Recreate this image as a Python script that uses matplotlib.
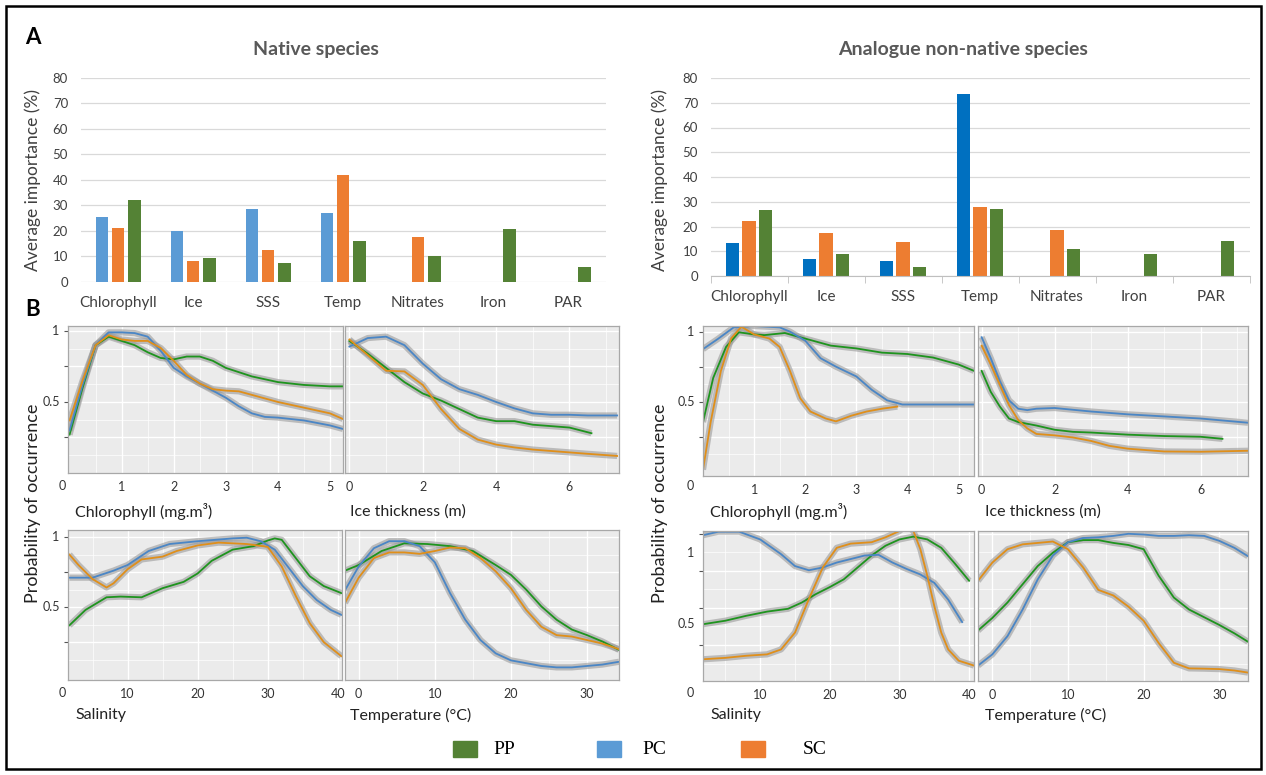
import numpy as np
import matplotlib.pyplot as plt
from matplotlib.patches import Rectangle

plt.rcParams['font.family'] = ['Lato', 'DejaVu Sans']

# ---- A: average importance (%) ----
variables = ['Chlorophyll', 'Ice', 'SSS', 'Temp', 'Nitrates', 'Iron', 'PAR']
native_pc = [25.5, 19.9, 28.5, 26.8, 0, 0, 0]
native_sc = [20.9, 8.1, 12.3, 41.7, 17.5, 0, 0]
native_pp = [31.9, 9.4, 7.2, 15.8, 10.0, 20.8, 5.9]
analog_pc = [13.3, 7.0, 6.1, 73.6, 0, 0, 0]
analog_sc = [22.4, 17.4, 13.8, 27.9, 18.6, 0, 0]
analog_pp = [26.8, 8.7, 3.7, 27.0, 10.8, 8.8, 14.0]

# ---- B: response curves (native) ----
nat_chl_x = [0, 0.25, 0.5, 0.75, 1.0, 1.25, 1.5, 1.75, 2.0, 2.25, 2.5, 2.75, 3.0, 3.25, 3.5, 3.75, 4.0, 4.5, 5.0, 5.25]
nat_chl_pp = [0.27, 0.6, 0.9, 0.96, 0.93, 0.9, 0.85, 0.81, 0.8, 0.82, 0.82, 0.79, 0.74, 0.71, 0.68, 0.66, 0.64, 0.62, 0.61, 0.61]
nat_chl_pc = [0.30, 0.62, 0.9, 0.99, 0.99, 0.985, 0.96, 0.86, 0.74, 0.68, 0.63, 0.58, 0.53, 0.47, 0.42, 0.395, 0.39, 0.37, 0.335, 0.31]
nat_chl_sc = [0.37, 0.65, 0.9, 0.97, 0.94, 0.93, 0.93, 0.88, 0.79, 0.69, 0.63, 0.59, 0.58, 0.575, 0.55, 0.525, 0.50, 0.46, 0.42, 0.38]

nat_ice_x = [0, 0.5, 1.0, 1.5, 2.0, 2.5, 3.0, 3.5, 4.0, 4.5, 5.0, 5.5, 6.0, 6.5, 7.3]
nat_ice_pc = [0.89, 0.95, 0.96, 0.9, 0.77, 0.66, 0.59, 0.55, 0.5, 0.455, 0.42, 0.41, 0.41, 0.405, 0.405]
nat_ice_sc = [0.94, 0.83, 0.72, 0.715, 0.62, 0.45, 0.31, 0.235, 0.2, 0.18, 0.165, 0.155, 0.145, 0.135, 0.12]
nat_ice_pp_x = [0, 0.5, 1.0, 1.5, 2.0, 2.5, 3.0, 3.5, 4.0, 4.5, 5.0, 5.5, 6.0, 6.6]
nat_ice_pp = [0.93, 0.84, 0.74, 0.64, 0.56, 0.51, 0.45, 0.39, 0.365, 0.365, 0.34, 0.33, 0.32, 0.28]

nat_sal_pc_x = [1.7, 5, 8, 10, 13, 16, 20, 25, 27, 29, 31, 33, 35, 37, 39, 40.5]
nat_sal_pc = [0.71, 0.71, 0.76, 0.8, 0.9, 0.95, 0.97, 0.99, 0.995, 0.97, 0.91, 0.78, 0.65, 0.55, 0.48, 0.445]
nat_sal_sc_x = [1.7, 3, 5, 7, 8, 10, 12, 15, 17, 20, 23, 27, 30, 32, 34, 36, 38, 40.5]
nat_sal_sc = [0.875, 0.8, 0.7, 0.64, 0.67, 0.77, 0.84, 0.86, 0.9, 0.94, 0.96, 0.95, 0.93, 0.79, 0.58, 0.385, 0.25, 0.15]
nat_sal_pp_x = [1.7, 4, 7, 9, 12, 15, 18, 20, 22, 25, 28, 30, 31, 32, 34, 36, 38, 40.5]
nat_sal_pp = [0.37, 0.48, 0.57, 0.575, 0.57, 0.635, 0.68, 0.74, 0.83, 0.91, 0.935, 0.975, 0.99, 0.98, 0.85, 0.72, 0.65, 0.6]

nat_tmp_x = [-1.8, 0, 2, 4, 6, 8, 10, 12, 14, 16, 18, 20, 22, 24, 26, 28, 30, 32, 34.2]
nat_tmp_pc = [0.62, 0.79, 0.92, 0.97, 0.97, 0.935, 0.82, 0.6, 0.41, 0.265, 0.17, 0.12, 0.1, 0.08, 0.07, 0.07, 0.08, 0.09, 0.11]
nat_tmp_sc = [0.53, 0.71, 0.85, 0.89, 0.89, 0.88, 0.9, 0.925, 0.92, 0.85, 0.755, 0.635, 0.48, 0.36, 0.3, 0.29, 0.265, 0.24, 0.2]
nat_tmp_pp_x = [-1.8, 0, 3, 6, 9, 12, 15, 18, 20, 22, 24, 26, 28, 30, 32, 34.2]
nat_tmp_pp = [0.76, 0.8, 0.9, 0.955, 0.95, 0.935, 0.9, 0.8, 0.73, 0.625, 0.505, 0.41, 0.34, 0.3, 0.255, 0.195]

# ---- B: response curves (analogue non-native) ----
ana_chl_pc_x = [0, 0.3, 0.6, 1.0, 1.5, 1.7, 2.0, 2.3, 2.6, 3.0, 3.3, 3.6, 3.9, 4.5, 5.0, 5.3]
ana_chl_pc = [0.875, 0.95, 1.03, 1.04, 1.03, 1.0, 0.935, 0.81, 0.75, 0.68, 0.585, 0.51, 0.48, 0.48, 0.48, 0.48]
ana_chl_pp_x = [0, 0.2, 0.45, 0.7, 1.0, 1.2, 1.6, 2.0, 2.5, 3.0, 3.5, 4.0, 4.5, 5.0, 5.3]
ana_chl_pp = [0.355, 0.67, 0.89, 0.995, 0.98, 0.975, 0.99, 0.95, 0.9, 0.88, 0.85, 0.84, 0.815, 0.765, 0.72]
ana_chl_sc_x = [0, 0.15, 0.35, 0.55, 0.75, 1.0, 1.3, 1.5, 1.7, 1.9, 2.1, 2.4, 2.6, 2.9, 3.2, 3.5, 3.8]
ana_chl_sc = [0.015, 0.355, 0.72, 0.95, 1.035, 0.98, 0.95, 0.89, 0.72, 0.525, 0.43, 0.38, 0.36, 0.4, 0.43, 0.45, 0.465]

ana_ice_pc_x = [0, 0.25, 0.5, 0.75, 1.0, 1.25, 1.5, 2.0, 3.0, 4.0, 5.0, 6.0, 7.3]
ana_ice_pc = [0.96, 0.81, 0.645, 0.51, 0.45, 0.44, 0.45, 0.455, 0.43, 0.41, 0.395, 0.38, 0.35]
ana_ice_sc_x = [0, 0.25, 0.5, 0.75, 1.0, 1.25, 1.5, 2.0, 2.5, 3.0, 3.5, 4.0, 4.5, 5.0, 6.0, 7.3]
ana_ice_sc = [0.9, 0.765, 0.62, 0.475, 0.37, 0.31, 0.27, 0.26, 0.245, 0.22, 0.185, 0.165, 0.155, 0.145, 0.143, 0.15]
ana_ice_pp_x = [0, 0.25, 0.5, 0.75, 1.0, 1.5, 2.0, 2.5, 3.0, 4.0, 5.0, 6.0, 6.6]
ana_ice_pp = [0.72, 0.57, 0.465, 0.38, 0.355, 0.33, 0.3, 0.285, 0.28, 0.265, 0.255, 0.25, 0.235]

ana_sal_pc_x = [1.8, 4, 7, 10, 13, 15, 17, 19, 21, 23, 25, 27, 29, 31, 33, 35, 37, 39]
ana_sal_pc = [1.13, 1.155, 1.155, 1.1, 0.995, 0.91, 0.88, 0.9, 0.935, 0.96, 0.985, 0.99, 0.935, 0.89, 0.85, 0.79, 0.67, 0.51]
ana_sal_sc_x = [1.8, 5, 8, 11, 13, 15, 17, 19, 21, 23, 26, 28, 30, 31, 32, 33, 34, 35, 36, 37, 38.5, 40.7]
ana_sal_sc = [0.245, 0.255, 0.27, 0.28, 0.315, 0.435, 0.675, 0.9, 1.04, 1.07, 1.08, 1.115, 1.16, 1.2, 1.16, 1.03, 0.84, 0.625, 0.435, 0.315, 0.235, 0.2]
ana_sal_pp_x = [1.8, 5, 8, 11, 14, 16, 18, 20, 22, 24, 26, 28, 30, 32, 34, 36, 38, 40]
ana_sal_pp = [0.495, 0.52, 0.555, 0.585, 0.605, 0.65, 0.71, 0.76, 0.815, 0.9, 0.985, 1.055, 1.1, 1.12, 1.1, 1.04, 0.925, 0.805]

ana_tmp_x = [-1.9, 0, 2, 4, 6, 8, 10, 12, 14, 16, 18, 20, 22, 24, 26, 28, 30, 32, 33.8]
ana_tmp_sc = [0.805, 0.935, 1.03, 1.065, 1.075, 1.085, 1.03, 0.9, 0.74, 0.70, 0.62, 0.52, 0.36, 0.22, 0.18, 0.178, 0.175, 0.165, 0.15]
ana_tmp_pp = [0.45, 0.54, 0.65, 0.78, 0.91, 1.005, 1.08, 1.095, 1.095, 1.075, 1.06, 1.03, 0.84, 0.685, 0.6, 0.545, 0.49, 0.43, 0.37]
ana_tmp_pc = [0.2, 0.28, 0.41, 0.6, 0.815, 0.985, 1.08, 1.11, 1.115, 1.125, 1.14, 1.135, 1.125, 1.125, 1.13, 1.125, 1.09, 1.04, 0.98]

# colours
bar_blue = '#5B9BD5'
bar_blue_dark = '#0070C0'
bar_orange = '#ED7D31'
bar_green = '#548235'
c_pp = '#1E941E'
c_pc = '#4A86C6'
c_sc = '#E08F1A'

W, H = 1266, 775
fig = plt.figure(figsize=(W / 100, H / 100), dpi=100)


def box(l, t, r, b):
    return [l / W, 1 - b / H, (r - l) / W, (b - t) / H]


def ftext(x, y, s, **kw):
    fig.text(x / W, 1 - y / H, s, **kw)


def bar_chart(rect, pc, sc, pp, pc_color, axis_line):
    ax = fig.add_axes(rect)
    x = np.arange(len(variables))
    ax.bar(x - 0.215, pc, 0.17, color=pc_color)
    ax.bar(x, sc, 0.17, color=bar_orange)
    ax.bar(x + 0.215, pp, 0.17, color=bar_green)
    ax.set_yticks(range(0, 81, 10))
    ax.yaxis.grid(True, color='#D9D9D9', lw=0.9)
    ax.set_axisbelow(True)
    for s in ax.spines.values():
        s.set_visible(False)
    ax.set_xticks(x, variables)
    ax.tick_params(axis='y', length=0, pad=9, labelsize=9.5, labelcolor='#404040')
    ax.tick_params(axis='x', length=0, pad=10, labelsize=11, labelcolor='#404040')
    if axis_line:
        ax.spines['bottom'].set_visible(True)
        ax.spines['bottom'].set_color('#BFBFBF')
        ax.set_xticks(np.arange(-0.5, 7, 1), minor=True)
        ax.tick_params(axis='x', which='minor', length=5, color='#BFBFBF')
    ax.set_xlim(-0.5, 6.5)
    ax.set_ylim(0, 80)
    return ax


bar_chart(box(80.5, 77.7, 605.5, 281.7), native_pc, native_sc, native_pp, bar_blue, False)
bar_chart(box(710.5, 78, 1249.5, 276), analog_pc, analog_sc, analog_pp, bar_blue_dark, True)

ftext(316, 50, 'Native species', ha='center', va='center', fontsize=14,
      fontweight='bold', color='#595959')
ftext(963, 50, 'Analogue non-native species', ha='center', va='center', fontsize=14,
      fontweight='bold', color='#595959')
ftext(33, 180, 'Average importance (%)', rotation=90, ha='center', va='center',
      fontsize=12.5, color='#404040')
ftext(660, 180, 'Average importance (%)', rotation=90, ha='center', va='center',
      fontsize=12.5, color='#404040')
ftext(33, 37, 'A', ha='center', va='center', fontsize=16, fontweight='bold')
ftext(33, 310, 'B', ha='center', va='center', fontsize=16, fontweight='bold')


def curve_panel(rect, xlim, ylim, xticks, xstep, curves, left, ygrid):
    ax = fig.add_axes(rect)
    ax.set_facecolor('#EBEBEB')
    for x, y, c in curves:
        ax.plot(x, y, color='#9A9A9A', lw=4.5, alpha=0.6, solid_capstyle='butt')
    for x, y, c in curves:
        ax.plot(x, y, color=c, lw=1.3, solid_joinstyle='round')
    ax.set_xticks(xticks)
    minor_x = np.arange(xticks[0] - xstep / 2, xlim[1], xstep)
    ax.set_xticks(minor_x[minor_x > xlim[0]], minor=True)
    ygrid = np.array(ygrid)
    ax.set_yticks(ygrid[ygrid < ylim[1]], [])
    minor_y = ygrid - (ygrid[1] - ygrid[0]) / 2
    ax.set_yticks(minor_y[(minor_y > ylim[0]) & (minor_y < ylim[1])], minor=True)
    ax.grid(True, which='major', color='white', lw=1.0)
    ax.grid(True, which='minor', color='white', lw=0.5)
    ax.set_axisbelow(True)
    for s in ax.spines.values():
        s.set_color('#A8A8A8')
        s.set_linewidth(0.9)
    ax.tick_params(axis='x', which='both', length=0, pad=6, labelsize=9, labelcolor='#333333')
    ax.tick_params(axis='y', which='minor', length=0)
    ax.tick_params(axis='y', which='major', length=3 if left else 0, color='#555555')
    if left:
        for val, lab in [(0.5, '0.5'), (1.0, '1')]:
            ax.annotate(lab, (0, val), xycoords=('axes fraction', 'data'), xytext=(-6, 0),
                        textcoords='offset points', ha='right', va='center',
                        fontsize=9, color='#333333')
    ax.set_xlim(xlim)
    ax.set_ylim(ylim)
    return ax


quarters = [0.25, 0.5, 0.75, 1.0]
yl_top = (0, 1.035)
curve_panel(box(68, 326, 343, 473), (-0.03, 5.25), yl_top, [1, 2, 3, 4, 5], 1,
            [(nat_chl_x, nat_chl_pp, c_pp), (nat_chl_x, nat_chl_pc, c_pc), (nat_chl_x, nat_chl_sc, c_sc)],
            True, quarters)
curve_panel(box(345, 326, 619, 473), (-0.12, 7.35), yl_top, [0, 2, 4, 6], 2,
            [(nat_ice_pp_x, nat_ice_pp, c_pp), (nat_ice_x, nat_ice_pc, c_pc), (nat_ice_x, nat_ice_sc, c_sc)],
            False, quarters)
curve_panel(box(68, 530, 342, 680), (1.5, 40.6), (-0.02, 1.05), [10, 20, 30, 40], 10,
            [(nat_sal_pp_x, nat_sal_pp, c_pp), (nat_sal_pc_x, nat_sal_pc, c_pc), (nat_sal_sc_x, nat_sal_sc, c_sc)],
            True, quarters)
curve_panel(box(345, 530, 619, 680), (-1.8, 34.2), (-0.02, 1.05), [0, 10, 20, 30], 10,
            [(nat_tmp_pp_x, nat_tmp_pp, c_pp), (nat_tmp_x, nat_tmp_pc, c_pc), (nat_tmp_x, nat_tmp_sc, c_sc)],
            False, quarters)

shifted = [0.347, 0.612, 0.877, 1.142]
curve_panel(box(703, 326, 974, 476), (0, 5.3), (-0.03, 1.04), [1, 2, 3, 4, 5], 1,
            [(ana_chl_pp_x, ana_chl_pp, c_pp), (ana_chl_pc_x, ana_chl_pc, c_pc), (ana_chl_sc_x, ana_chl_sc, c_sc)],
            True, quarters)
curve_panel(box(978, 326, 1248, 476), (-0.1, 7.3), (-0.03, 1.04), [0, 2, 4, 6], 2,
            [(ana_ice_pp_x, ana_ice_pp, c_pp), (ana_ice_pc_x, ana_ice_pc, c_pc), (ana_ice_sc_x, ana_ice_sc, c_sc)],
            False, quarters)
curve_panel(box(703, 531, 974, 681), (1.8, 40.7), (0.09, 1.16), [10, 20, 30, 40], 10,
            [(ana_sal_pp_x, ana_sal_pp, c_pp), (ana_sal_pc_x, ana_sal_pc, c_pc), (ana_sal_sc_x, ana_sal_sc, c_sc)],
            True, shifted)
curve_panel(box(978, 531, 1248, 681), (-1.9, 33.8), (0.09, 1.16), [0, 10, 20, 30], 10,
            [(ana_tmp_x, ana_tmp_pp, c_pp), (ana_tmp_x, ana_tmp_pc, c_pc), (ana_tmp_x, ana_tmp_sc, c_sc)],
            False, shifted)

# corner zeros and axis titles of the response curves
for cx, cy in [(62, 486), (62, 693), (690, 486), (690, 693)]:
    ftext(cx, cy, '0', ha='center', va='center', fontsize=9, color='#333333')
for x0 in (75, 710):
    ftext(x0, 512, 'Chlorophyll (mg.m³)', ha='left', va='center', fontsize=11.5, color='#222222')
    ftext(x0, 715, 'Salinity', ha='left', va='center', fontsize=11.5, color='#222222')
for x0 in (350, 985):
    ftext(x0, 512, 'Ice thickness (m)', ha='left', va='center', fontsize=11.5, color='#222222')
    ftext(x0, 715, 'Temperature (°C)', ha='left', va='center', fontsize=11.5, color='#222222')
for x0 in (33, 660):
    ftext(x0, 503, 'Probability of occurrence', rotation=90, ha='center', va='center',
          fontsize=13, color='#222222')

# legend
for (lx, tx), lab, col in zip([(453, 493), (597, 642), (741, 803)], ['PP', 'PC', 'SC'],
                              [bar_green, bar_blue, bar_orange]):
    fig.patches.append(Rectangle((lx / W, 1 - 757 / H), 24 / W, 16 / H,
                                 transform=fig.transFigure, color=col))
    ftext(tx, 750, lab, ha='left', va='center', fontsize=14, family='Liberation Serif')

# outer frame
fig.patches.append(Rectangle((6 / W, 1 - 769 / H), 1255 / W, 763 / H, transform=fig.transFigure,
                             fill=False, ec='black', lw=1.8))

plt.savefig('out.png', dpi=100)
